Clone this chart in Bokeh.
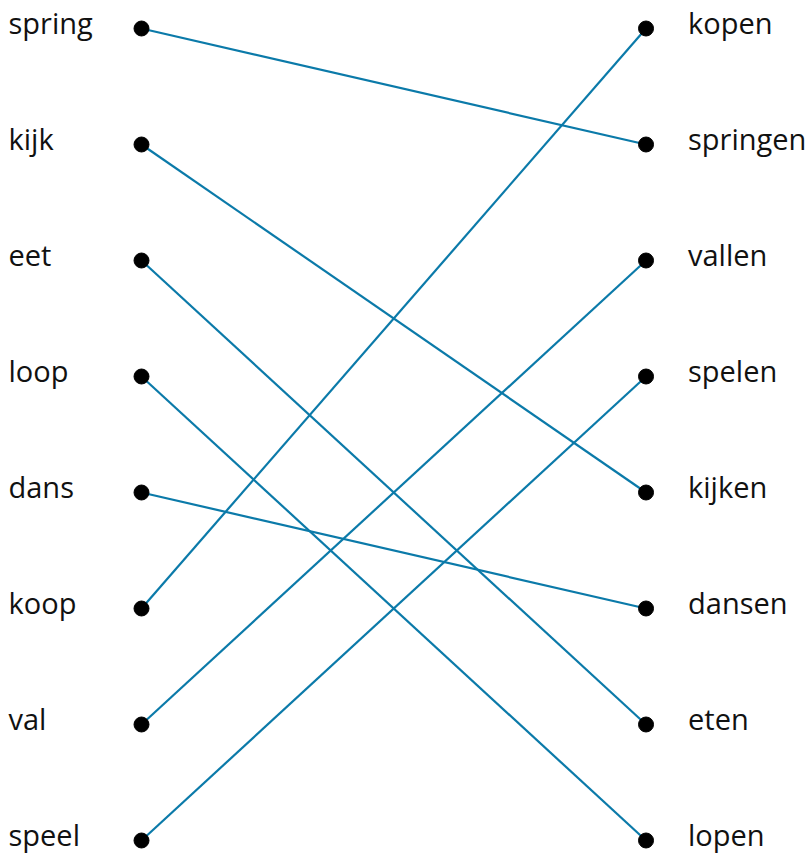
from bokeh.plotting import figure
from bokeh.models import Range1d
from bokeh.embed import file_html
from bokeh.resources import INLINE
from bokeh.core.properties import value

left_words = ["spring", "kijk", "eet", "loop", "dans", "koop", "val", "speel"]
right_words = ["kopen", "springen", "vallen", "spelen", "kijken", "dansen", "eten", "lopen"]
# index in right_words matched to each left word
matches = [1, 4, 6, 7, 5, 0, 2, 3]

W, H = 811, 854
p = figure(width=W, height=H, output_backend="svg", toolbar_location=None,
           min_border=0, min_border_left=0, min_border_right=0,
           min_border_top=0, min_border_bottom=0)
p.x_range = Range1d(-0.2795, 1.328)
p.y_range = Range1d(7.1207, -0.2414)
p.axis.visible = False
p.grid.visible = False
p.outline_line_color = None
p.background_fill_color = "white"

n = len(left_words)
rows = list(range(n))

xs = [[0, 1] for _ in rows]
ys = [[i, m] for i, m in zip(rows, matches)]
p.multi_line(xs=xs, ys=ys, line_color="#0b7aa9", line_width=2.2)

p.scatter(x=[0] * n, y=rows, size=15, color="black")
p.scatter(x=[1] * n, y=rows, size=15, color="black")

p.text(x=[0] * n, y=rows, text=left_words, x_offset=-133, y_offset=-6,
       text_font=value("Open Sans"), text_font_size="29px", text_color="#111111",
       text_align="left", text_baseline="middle", text_line_height=1.0)
p.text(x=[1] * n, y=rows, text=right_words, x_offset=42, y_offset=-6,
       text_font=value("Open Sans"), text_font_size="29px", text_color="#111111",
       text_align="left", text_baseline="middle", text_line_height=1.0)

open("out.html", "w").write(file_html(p, INLINE))
